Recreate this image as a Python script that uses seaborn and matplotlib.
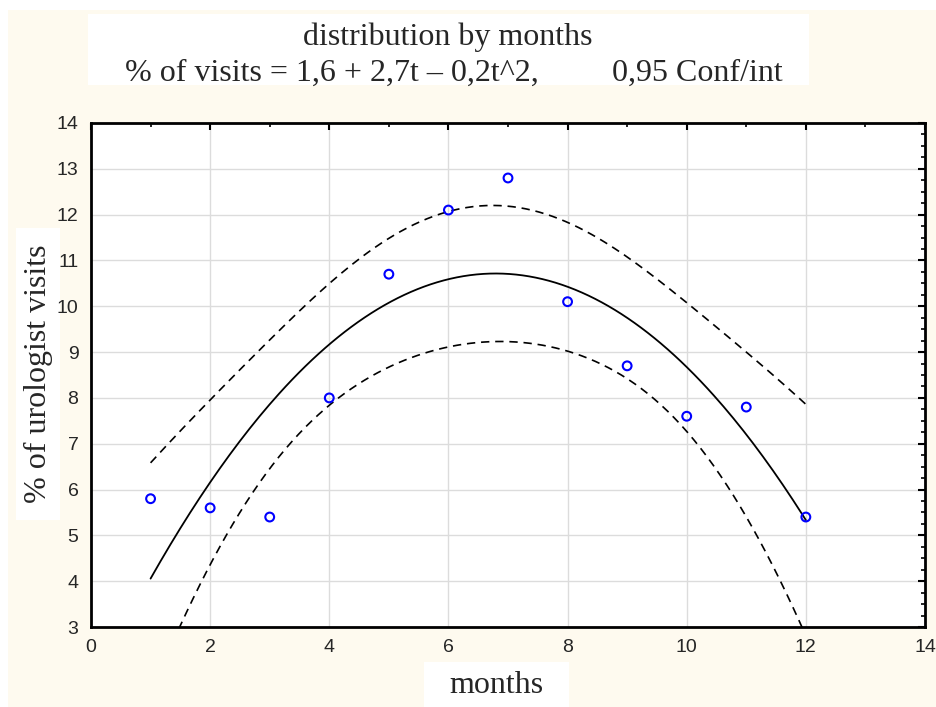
import numpy as np
import pandas as pd
import matplotlib
matplotlib.use("Agg")
import matplotlib.pyplot as plt
from matplotlib.patches import Rectangle
from matplotlib.ticker import MultipleLocator
import seaborn as sns

# monthly share of urologist visits
months = [1, 2, 3, 4, 5, 6, 7, 8, 9, 10, 11, 12]
visits = [5.8, 5.6, 5.4, 8.0, 10.7, 12.1, 12.8, 10.1, 8.7, 7.6, 7.8, 5.4]

title_line1 = "distribution by months"
title_eq = "% of visits = 1,6 + 2,7t \u2013 0,2t^2,"
title_ci = "0,95 Conf/int"
xlabel = "months"
ylabel = "% of urologist visits"

W, H = 936, 707
CREAM = "#FEFAEF"
SERIF = ["Liberation Serif", "DejaVu Serif"]

sns.set_style("white")
plt.rcParams["font.family"] = ["Liberation Sans", "DejaVu Sans"]


def fx(x):
    return x / W


def fy(y):
    return 1 - y / H


# quadratic fit and 0.95 confidence band of the mean
df = pd.DataFrame({"month": months, "visits": visits})
t = df["month"].to_numpy(float)
y = df["visits"].to_numpy(float)
X = np.column_stack([np.ones_like(t), t, t ** 2])
beta, *_ = np.linalg.lstsq(X, y, rcond=None)
resid = y - X @ beta
dof = len(t) - 3
s2 = resid @ resid / dof
cov = s2 * np.linalg.inv(X.T @ X)
tcrit = 2.262  # t(0.975, 9)

grid_t = np.linspace(1, 12, 200)
G = np.column_stack([np.ones_like(grid_t), grid_t, grid_t ** 2])
fit = G @ beta
se = np.sqrt(np.einsum("ij,jk,ik->i", G, cov, G))
fit_df = pd.DataFrame({"t": grid_t, "fit": fit,
                       "lo": fit - tcrit * se, "hi": fit + tcrit * se})

fig = plt.figure(figsize=(W / 100, H / 100), dpi=100, facecolor="white")
fig.patches.append(Rectangle((fx(8), 0), 1 - fx(8), fy(10), transform=fig.transFigure,
                             facecolor=CREAM, edgecolor="none", zorder=-10))
# white boxes behind the texts
for x0, y0, x1, y1 in [(88, 14, 809, 85), (16, 228, 60, 520), (424, 662, 569, 707)]:
    fig.patches.append(Rectangle((fx(x0), fy(y1)), fx(x1) - fx(x0), fy(y0) - fy(y1),
                                 transform=fig.transFigure, facecolor="white",
                                 edgecolor="none", zorder=-5))

ax = fig.add_axes([fx(91), fy(627), fx(925) - fx(91), fy(123) - fy(627)])
ax.set_facecolor("white")

sns.lineplot(data=fit_df, x="t", y="fit", ax=ax, color="black", lw=1.3, sort=False)
for col in ["lo", "hi"]:
    sns.lineplot(data=fit_df, x="t", y=col, ax=ax, color="black", lw=1.2,
                 linestyle=(0, (5, 3.5)), sort=False)
sns.scatterplot(data=df, x="month", y="visits", ax=ax, marker="o", s=40,
                facecolor="none", edgecolor="#0000FF", linewidth=1.5, zorder=5)

ax.set_xlim(0, 14)
ax.set_ylim(3, 14)
ax.xaxis.set_major_locator(MultipleLocator(2))
ax.xaxis.set_minor_locator(MultipleLocator(1))
ax.yaxis.set_major_locator(MultipleLocator(1))
ax.yaxis.set_minor_locator(MultipleLocator(0.25))
ax.grid(True, which="major", color="#DCDCDC", lw=1)
ax.set_axisbelow(True)
ax.tick_params(which="both", direction="in", top=True, right=True,
               color="black", labelsize=14, pad=9)
ax.tick_params(which="major", length=5, width=1.5)
ax.tick_params(which="minor", length=3, width=1.2)
for sp in ax.spines.values():
    sp.set_color("black")
    sp.set_linewidth(2)
ax.set_xlabel("")
ax.set_ylabel("")

fig.text(fx(448), fy(45), title_line1, ha="center", va="baseline", fontsize=23, family=SERIF)
fig.text(fx(125), fy(81), title_eq, ha="left", va="baseline", fontsize=23, family=SERIF)
fig.text(fx(612), fy(81), title_ci, ha="left", va="baseline", fontsize=23, family=SERIF)
fig.text(fx(496), fy(693), xlabel, ha="center", va="baseline", fontsize=23, family=SERIF)
fig.text(fx(38), fy(374), ylabel, ha="center", va="center", rotation=90,
         fontsize=23, family=SERIF)

fig.savefig("out.png", dpi=100, facecolor=fig.get_facecolor())
